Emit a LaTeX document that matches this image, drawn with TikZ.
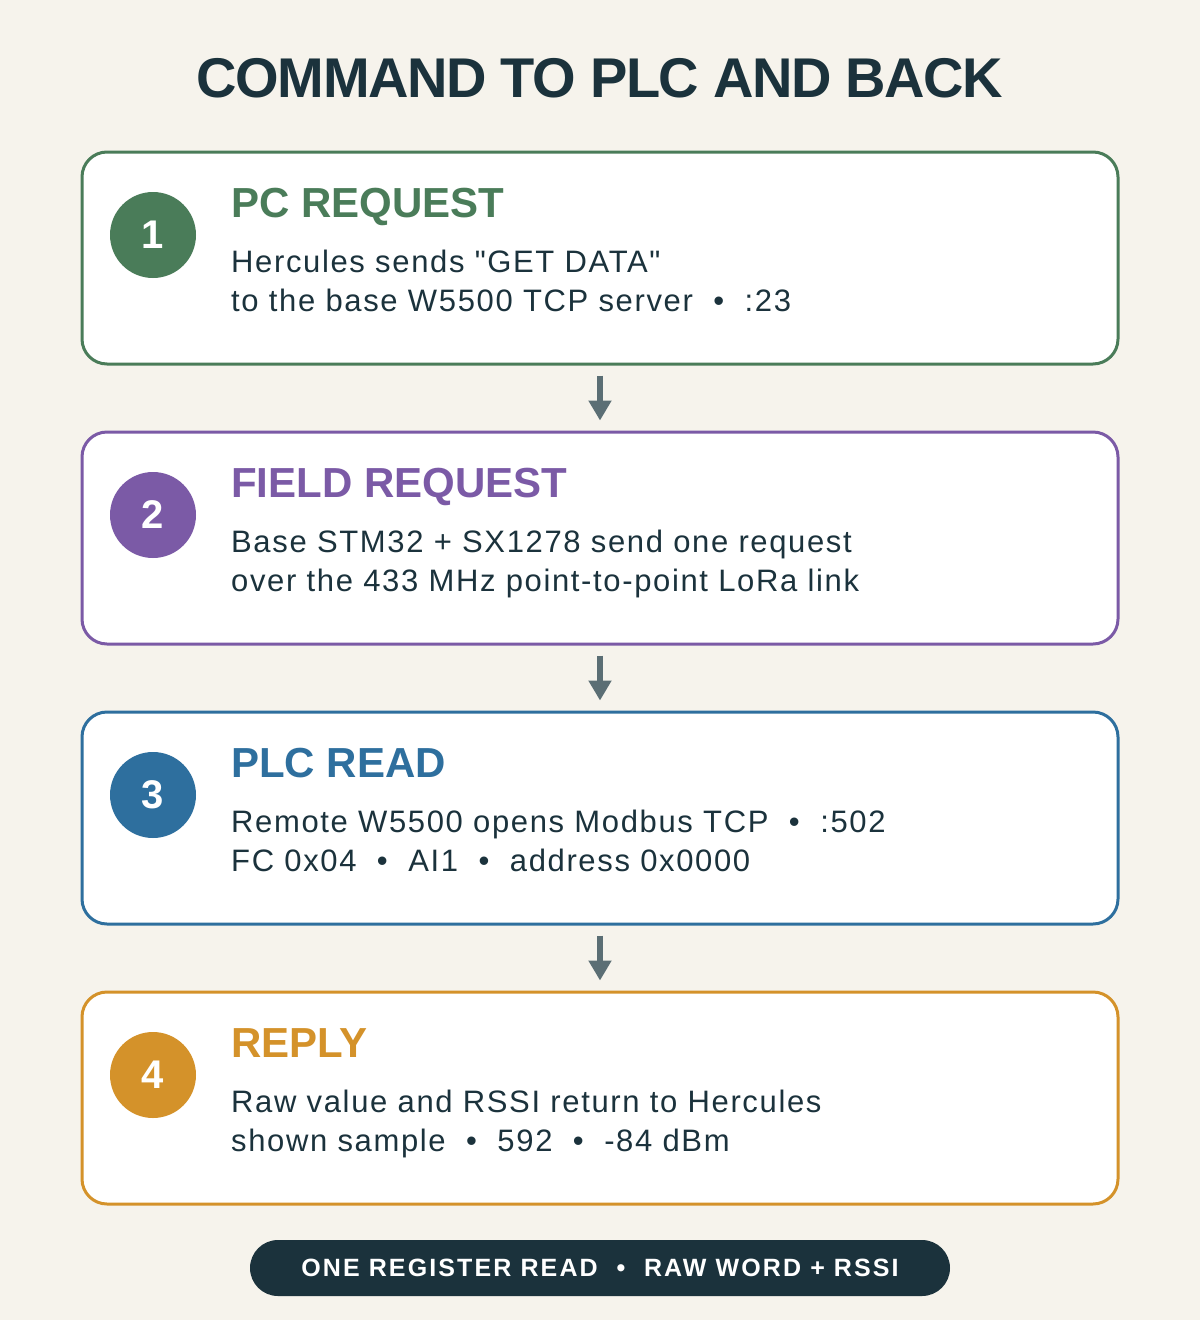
\documentclass[tikz,border=0pt]{standalone}
\usepackage{fontspec}
\setmainfont{Liberation Sans}
\newfontfamily\bodyfont{Liberation Sans}[LetterSpace=5.3,Ligatures=TeXOff]
\newfontfamily\footfont{Liberation Sans}[LetterSpace=8.5]
\newfontfamily\titlefont{Liberation Sans}[LetterSpace=-2.6]
\usetikzlibrary{arrows.meta}
\definecolor{bgc}{HTML}{F6F3EC}
\definecolor{ink}{HTML}{1B323C}
\definecolor{cgreen}{HTML}{4A7C59}
\definecolor{cpurple}{HTML}{7B5AA6}
\definecolor{cblue}{HTML}{2E6F9E}
\definecolor{corange}{HTML}{D4922A}
\definecolor{arrowc}{HTML}{5B6E74}
\newcommand{\sep}{\hspace{0.66em}•\hspace{0.66em}}
\newcommand{\fsep}{\hspace{0.75em}•\hspace{0.75em}}
\tikzset{
  stepbox/.style={draw=#1, line width=3pt, fill=white, rounded corners=25pt,
    minimum width=1036pt, minimum height=212pt, inner sep=0pt},
  badge/.style={circle, fill=#1, minimum size=86pt, inner sep=0pt, text=white,
    font=\bfseries\fontsize{40}{40}\selectfont},
  headtxt/.style={anchor=base west, inner sep=0pt, text=#1,
    font=\bfseries\fontsize{42}{42}\selectfont},
  bodytxt/.style={anchor=base west, inner sep=0pt, text=ink,
    font=\bodyfont\fontsize{31}{31}\selectfont},
  flow/.style={draw=arrowc, line width=6pt, -{Triangle[width=22pt,length=20pt]}},
}
\begin{document}
\begin{tikzpicture}[x=1pt,y=-1pt]
\fill[bgc] (0,0) rectangle (1200,1320);
\useasboundingbox (0,0) rectangle (1200,1320);

\node[inner sep=0pt, anchor=base, text=ink, font=\titlefont\bfseries\fontsize{56}{56}\selectfont] (title) at (600,97) {COMMAND TO PLC AND BACK};

% boxes
\node[stepbox=cgreen] (b1) at (600,258) {};
\node[stepbox=cpurple] (b2) at (600,538) {};
\node[stepbox=cblue] (b3) at (600,818) {};
\node[stepbox=corange] (b4) at (600,1098) {};

% badges
\node[badge=cgreen] (c1) at (153,235) {1};
\node[badge=cpurple] (c2) at (153,515) {2};
\node[badge=cblue] (c3) at (153,795) {3};
\node[badge=corange] (c4) at (153,1075) {4};

% texts
\node[headtxt=cgreen] (h1) at (231,217) {PC REQUEST};
\node[bodytxt] (t1a) at (231,272) {Hercules sends "GET DATA"};
\node[bodytxt] (t1b) at (231,311) {to the base W5500 TCP server\sep:23};

\node[headtxt=cpurple] (h2) at (231,497) {FIELD REQUEST};
\node[bodytxt] (t2a) at (231,552) {Base STM32 + SX1278 send one request};
\node[bodytxt] (t2b) at (231,591) {over the 433 MHz point-to-point LoRa link};

\node[headtxt=cblue] (h3) at (231,777) {PLC READ};
\node[bodytxt] (t3a) at (231,832) {Remote W5500 opens Modbus TCP\sep:502};
\node[bodytxt] (t3b) at (231,871) {FC 0x04\sep AI1\sep address 0x0000};

\node[headtxt=corange] (h4) at (231,1057) {REPLY};
\node[bodytxt] (t4a) at (231,1112) {Raw value and RSSI return to Hercules};
\node[bodytxt] (t4b) at (231,1151) {shown sample\sep 592\sep -84 dBm};

% arrows
\draw[flow] ([yshift=-10pt]b1.south) -- ([yshift=10pt]b2.north);
\draw[flow] ([yshift=-10pt]b2.south) -- ([yshift=10pt]b3.north);
\draw[flow] ([yshift=-10pt]b3.south) -- ([yshift=10pt]b4.north);

% footer
\node[fill=ink, rounded corners=28pt, minimum width=700pt, minimum height=56pt, inner sep=0pt,
  text=white, font=\footfont\bfseries\fontsize{25}{25}\selectfont] (foot) at (600,1268)
  {ONE REGISTER READ\fsep RAW WORD + RSSI};
\end{tikzpicture}
\end{document}
